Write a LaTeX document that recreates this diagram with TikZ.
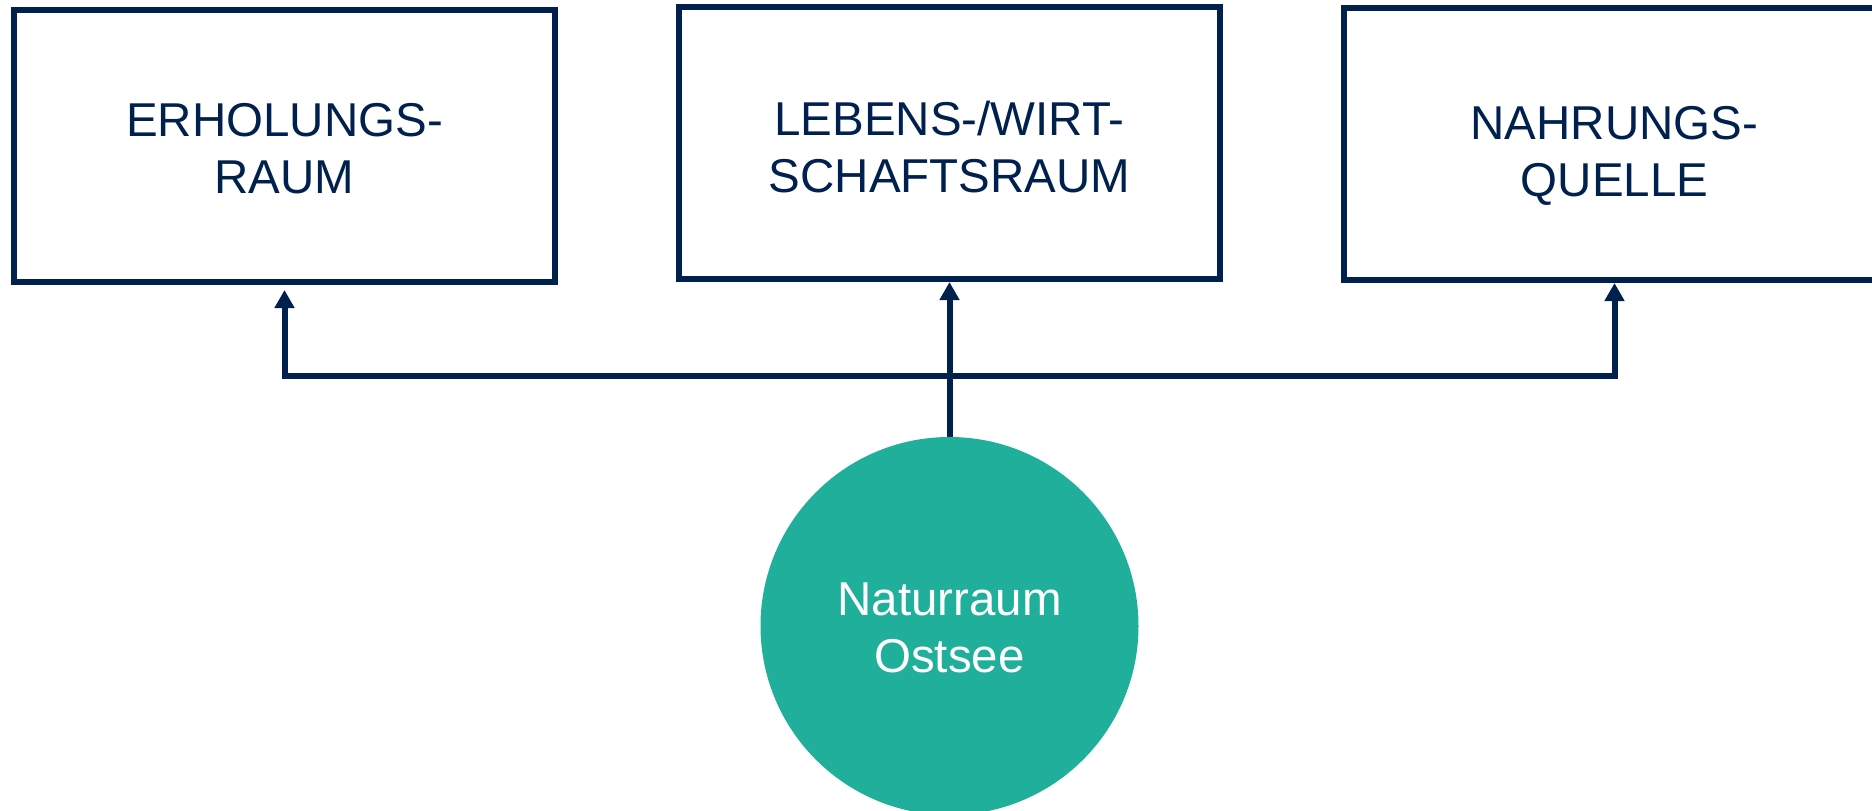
\documentclass[tikz,border=0pt]{standalone}
\usepackage{fontspec}
\setmainfont{Liberation Sans}
\usetikzlibrary{arrows.meta}
\definecolor{dunkelblau}{HTML}{00204E}
\definecolor{meergruen}{HTML}{1FAF9B}
\tikzset{
  schrift/.style={font=\fontsize{47.5}{57}\selectfont, text depth=0pt},
  feld/.style={draw=dunkelblau, line width=6pt, minimum width=541pt, minimum height=272pt,
    inner sep=0pt, align=center, text=dunkelblau, schrift},
  kreis/.style={circle, fill=meergruen, minimum size=378pt, inner sep=0pt,
    align=center, text=white, schrift},
  pfeil/.style={draw=dunkelblau, line width=6pt, -{Triangle[length=18pt,width=19pt]}}
}
\begin{document}
\begin{tikzpicture}[x=1pt,y=-1pt]
  \useasboundingbox (0,0) rectangle (1872,811);
  % Nutzungen
  \node[feld, text height=94pt] (erholung) at (284.5,146) {ERHOLUNGS-\\RAUM};
  \node[feld, text height=98pt] (lebensraum) at (949.5,143) {LEBENS-/WIRT-\\SCHAFTSRAUM};
  \node[feld, text height=105pt] (nahrung) at (1614.5,144) {NAHRUNGS-\\QUELLE};
  % Ursprung
  \node[kreis, text height=92pt] (ostsee) at (949.5,626) {Naturraum\\Ostsee};
  \coordinate (mitte) at (949.5,376);
  % Verbindungen
  \draw[pfeil] (ostsee.north) -- (lebensraum.south);
  \draw[pfeil, shorten >=5pt] (mitte) -| (erholung.south);
  \draw[pfeil] (mitte) -| (nahrung.south);
\end{tikzpicture}
\end{document}
